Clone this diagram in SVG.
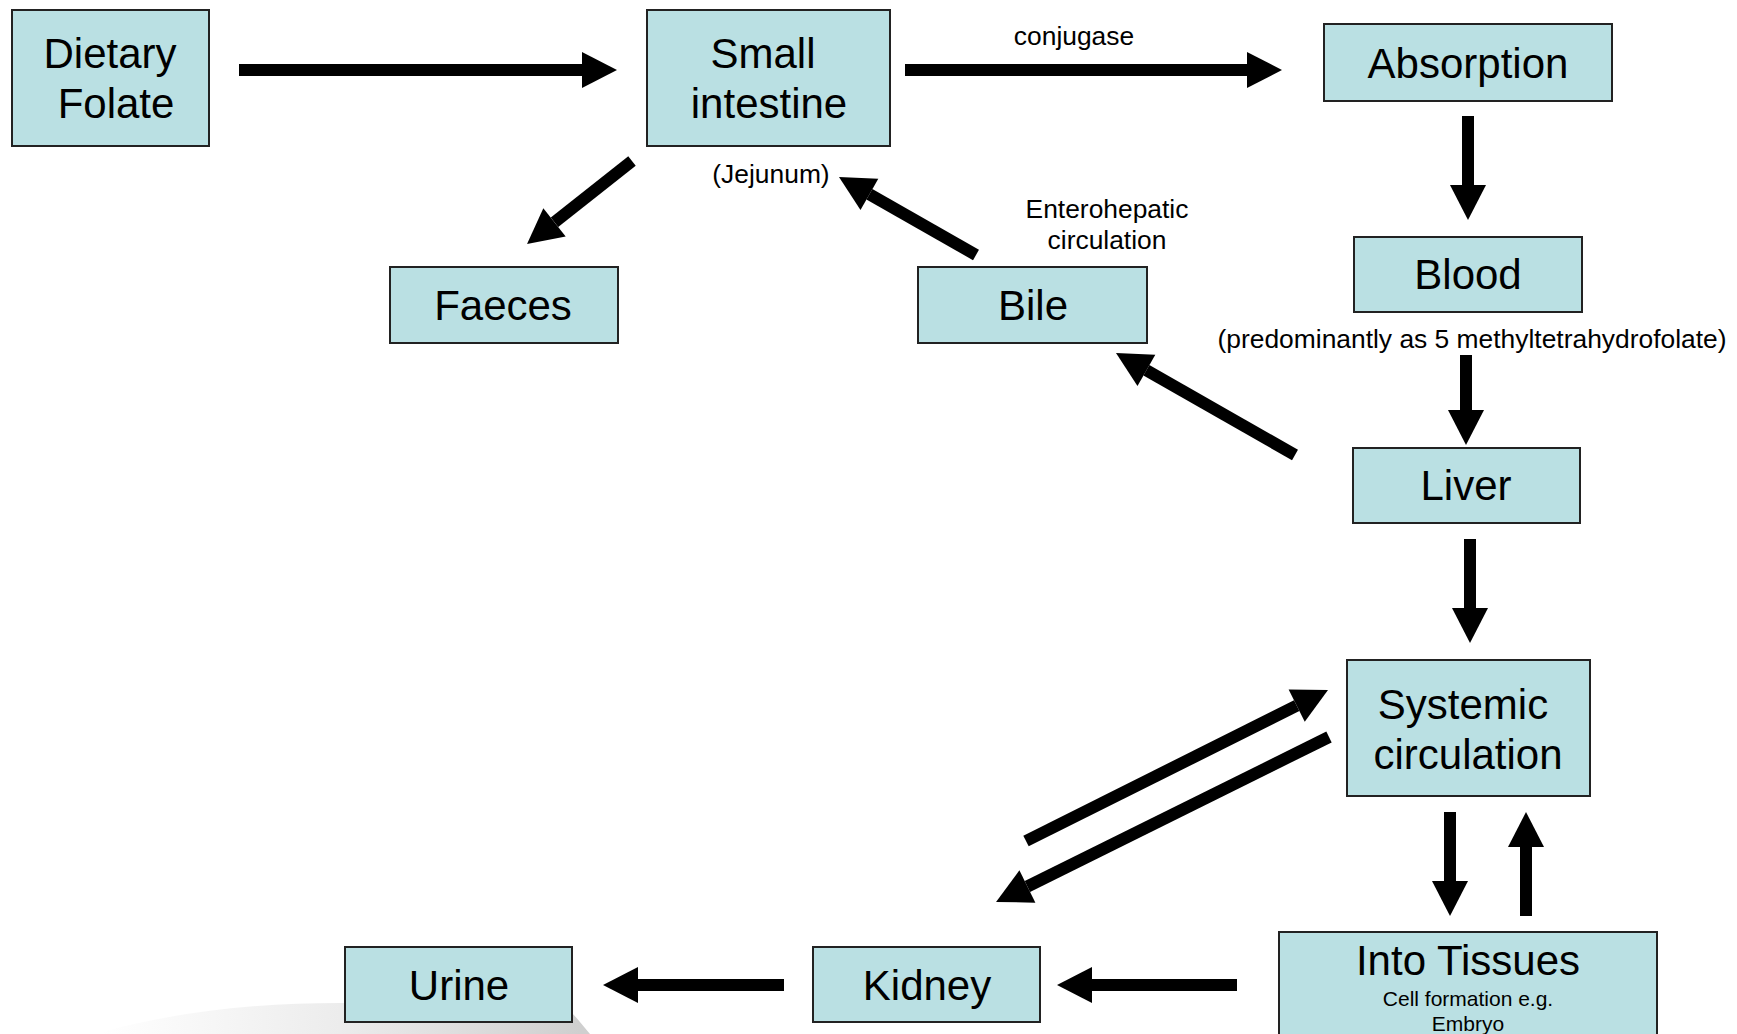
<svg xmlns="http://www.w3.org/2000/svg" width="1737" height="1034" viewBox="0 0 1737 1034">
<defs>
<style>
.box{fill:#BAE0E3;stroke:#222;stroke-width:2}
.t{font-family:"Liberation Sans",Arial,sans-serif;font-size:42px;fill:#000;text-anchor:middle}
.s{font-family:"Liberation Sans",Arial,sans-serif;font-size:26.4px;fill:#000;text-anchor:middle}
.xs{font-family:"Liberation Sans",Arial,sans-serif;font-size:21px;fill:#000;text-anchor:middle}
.c{stroke:#000;stroke-width:12;fill:none;marker-end:url(#ah)}
</style>
<marker id="ah" markerUnits="userSpaceOnUse" markerWidth="36" markerHeight="36" refX="0" refY="18" orient="auto" overflow="visible">
<path d="M0,0 L35,18 L0,36 Z" fill="#000"/>
</marker>
<linearGradient id="sw" gradientUnits="userSpaceOnUse" x1="100" y1="0" x2="580" y2="0">
<stop offset="0" stop-color="#ffffff"/>
<stop offset="0.5" stop-color="#ececec"/>
<stop offset="1" stop-color="#cfcfcf"/>
</linearGradient>
</defs>
<rect width="1737" height="1034" fill="#ffffff"/>
<path d="M95,1034 C180,1010 260,1003 340,1003 L565,1006 C575,1015 582,1025 590,1034 Z" fill="url(#sw)"/>

<g id="connectors">
<line class="c" x1="239" y1="70" x2="582" y2="70"/>
<line class="c" x1="905" y1="70" x2="1247" y2="70"/>
<line class="c" x1="632" y1="161" x2="554.5" y2="222.3"/>
<line class="c" x1="976" y1="255" x2="869.4" y2="194.3"/>
<line class="c" x1="1468" y1="116" x2="1468" y2="185"/>
<line class="c" x1="1466" y1="355" x2="1466" y2="410"/>
<line class="c" x1="1295" y1="455" x2="1146.4" y2="370.3"/>
<line class="c" x1="1470" y1="539" x2="1470" y2="608"/>
<line class="c" x1="1026" y1="841" x2="1296.7" y2="705.7"/>
<line class="c" x1="1329" y1="737" x2="1027.4" y2="886.5"/>
<line class="c" x1="1450" y1="812" x2="1450" y2="881"/>
<line class="c" x1="1526" y1="916" x2="1526" y2="847"/>
<line class="c" x1="1237" y1="985" x2="1092" y2="985"/>
<line class="c" x1="784" y1="985" x2="638" y2="985"/>
<text class="s" x="1074" y="45">conjugase</text>
<text class="s" x="771" y="183">(Jejunum)</text>
<text class="s" x="1107" y="218">Enterohepatic</text>
<text class="s" x="1107" y="249">circulation</text>
</g>

<g id="dietary-folate">
<rect class="box" x="12" y="10" width="197" height="136"/>
<text class="t" x="110" y="68">Dietary</text>
<text class="t" x="116" y="118">Folate</text>
</g>
<g id="small-intestine">
<rect class="box" x="647" y="10" width="243" height="136"/>
<text class="t" x="763" y="68">Small</text>
<text class="t" x="769" y="118">intestine</text>
</g>
<g id="absorption">
<rect class="box" x="1324" y="24" width="288" height="77"/>
<text class="t" x="1468" y="78">Absorption</text>
</g>
<g id="faeces">
<rect class="box" x="390" y="267" width="228" height="76"/>
<text class="t" x="503" y="320">Faeces</text>
</g>
<g id="bile">
<rect class="box" x="918" y="267" width="229" height="76"/>
<text class="t" x="1033" y="320">Bile</text>
</g>
<g id="blood">
<rect class="box" x="1354" y="237" width="228" height="75"/>
<text class="t" x="1468" y="289">Blood</text>
<text class="s" x="1472" y="348">(predominantly as 5 methyltetrahydrofolate)</text>
</g>
<g id="liver">
<rect class="box" x="1353" y="448" width="227" height="75"/>
<text class="t" x="1466" y="500">Liver</text>
</g>
<g id="systemic-circulation">
<rect class="box" x="1347" y="660" width="243" height="136"/>
<text class="t" x="1463" y="719">Systemic</text>
<text class="t" x="1468" y="769">circulation</text>
</g>
<g id="into-tissues">
<rect class="box" x="1279" y="932" width="378" height="110"/>
<text class="t" x="1468" y="975">Into Tissues</text>
<text class="xs" x="1468" y="1006">Cell formation e.g.</text>
<text class="xs" x="1468" y="1031">Embryo</text>
</g>
<g id="kidney">
<rect class="box" x="813" y="947" width="227" height="75"/>
<text class="t" x="927" y="1000">Kidney</text>
</g>
<g id="urine">
<rect class="box" x="345" y="947" width="227" height="75"/>
<text class="t" x="459" y="1000">Urine</text>
</g>
</svg>
